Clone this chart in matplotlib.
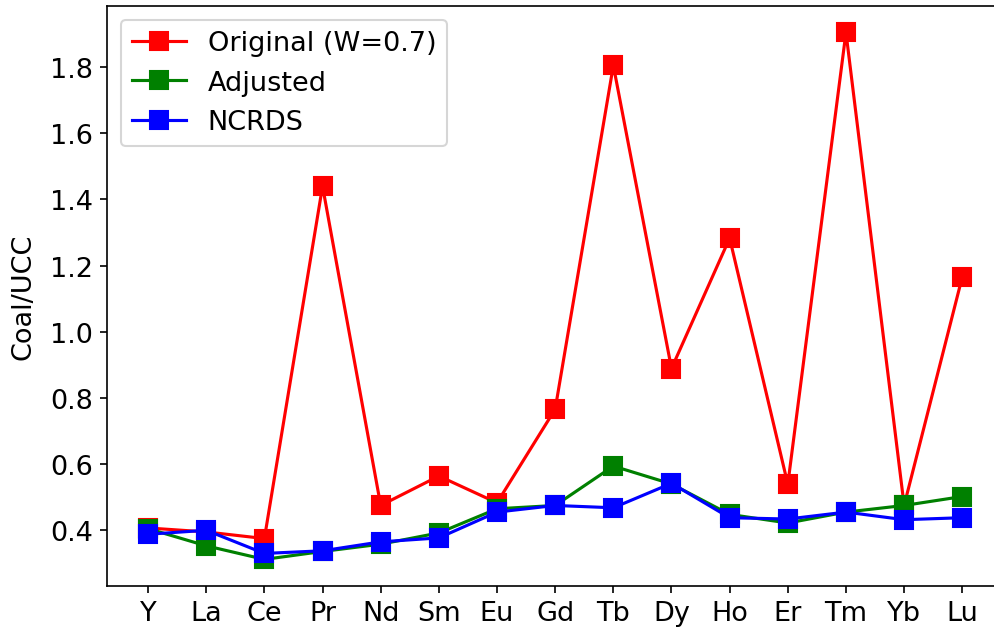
import matplotlib
matplotlib.use("Agg")
import matplotlib.pyplot as plt

# rare earth elements and normalised concentrations
elements = ["Y", "La", "Ce", "Pr", "Nd", "Sm", "Eu", "Gd", "Tb", "Dy", "Ho", "Er", "Tm", "Yb", "Lu"]
original = [0.407, 0.395, 0.375, 1.44, 0.475, 0.564, 0.483, 0.766, 1.805, 0.889, 1.283, 0.539, 1.905, 0.475, 1.166]
adjusted = [0.405, 0.353, 0.312, 0.336, 0.358, 0.392, 0.465, 0.475, 0.594, 0.540, 0.448, 0.422, 0.455, 0.475, 0.502]
ncrds = [0.388, 0.400, 0.330, 0.338, 0.365, 0.377, 0.455, 0.475, 0.468, 0.542, 0.438, 0.434, 0.455, 0.432, 0.438]

plt.rcParams.update({'font.size': 13})

fig, ax = plt.subplots(figsize=(6.627, 4.233), dpi=150)
fig.subplots_adjust(left=0.108, right=1.009, bottom=0.076, top=0.989)

ax.plot(elements, original, 'r', marker='s', markersize=8.5, label="Original (W=0.7)")
ax.plot(elements, adjusted, 'g', marker='s', markersize=8.5, label="Adjusted")
ax.plot(elements, ncrds, 'b', marker='s', markersize=8.5, label="NCRDS")
ax.set_ylabel("Coal/UCC", labelpad=6.5)
ax.legend(loc='upper left')

fig.savefig("out.png", dpi=150)
